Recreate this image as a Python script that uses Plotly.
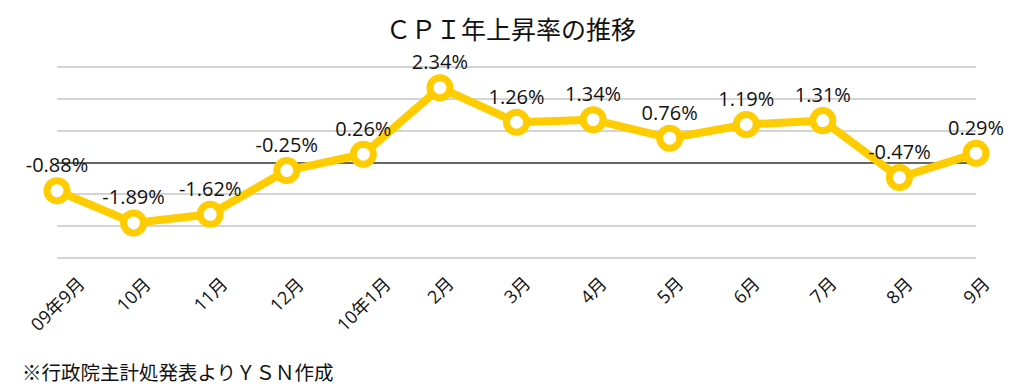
import plotly.graph_objects as go

months = ["09年9月", "10月", "11月", "12月", "10年1月", "2月", "3月", "4月", "5月", "6月", "7月", "8月", "9月"]
cpi = [-0.88, -1.89, -1.62, -0.25, 0.26, 2.34, 1.26, 1.34, 0.76, 1.19, 1.31, -0.47, 0.29]
labels = [f"{v:.2f}%" for v in cpi]

CJK = "Noto Sans CJK JP"
NUM = "Open Sans, Noto Sans CJK JP"
YELLOW = "#FFCC00"

# page has an 8px body margin, so figure coords = page coords - 8
W, H = 1008, 383
L, R, T, B = 49, 40, 57, 131
PH = H - T - B
PW = W - L - R

x_idx = list(range(len(months)))

fig = go.Figure()
fig.add_trace(go.Scatter(
    x=x_idx, y=cpi,
    mode="lines+markers+text",
    line=dict(color=YELLOW, width=8),
    marker=dict(symbol="circle", size=20, color="white", line=dict(color=YELLOW, width=7)),
    text=labels, textposition="top center",
    textfont=dict(family=NUM, size=20, color="#111111"),
    cliponaxis=False, showlegend=False, hoverinfo="skip",
))

annotations = [dict(
    text=m, x=i, xref="x", y=(T + PH - 261) / PH,
    yref="paper", xanchor="center", yanchor="top", textangle=-45, showarrow=False,
    font=dict(family=NUM, size=18, color="#111111"),
) for i, m in zip(x_idx, months)]

annotations.append(dict(
    text="※行政院主計処発表よりＹＳＮ作成", xref="paper", yref="paper",
    x=(12 - L) / PW, y=(T + PH - 363) / PH, xanchor="left", yanchor="middle",
    showarrow=False, font=dict(family=CJK, size=19.5, color="#111111"),
))

fig.update_layout(
    width=W, height=H,
    margin=dict(l=L, r=R, t=T, b=B, autoexpand=False),
    paper_bgcolor="white", plot_bgcolor="white",
    title=dict(text="ＣＰＩ年上昇率の推移", x=503 / W, xanchor="center", y=1 - 22 / H, yanchor="middle",
               font=dict(family=CJK, size=25, color="#111111")),
    xaxis=dict(
        range=[0, len(months) - 1], showticklabels=False, showgrid=False, zeroline=False,
        showline=False, ticks="", automargin=False,
    ),
    yaxis=dict(
        range=[-3.05, 3.05], tickvals=[-3, -2, -1, 0, 1, 2, 3], showticklabels=False,
        gridcolor="#d4d4d4", gridwidth=2, automargin=False,
        zeroline=True, zerolinecolor="#666666", zerolinewidth=1.5, showline=False, ticks="",
    ),
    annotations=annotations,
)

fig.write_html("out.html")
